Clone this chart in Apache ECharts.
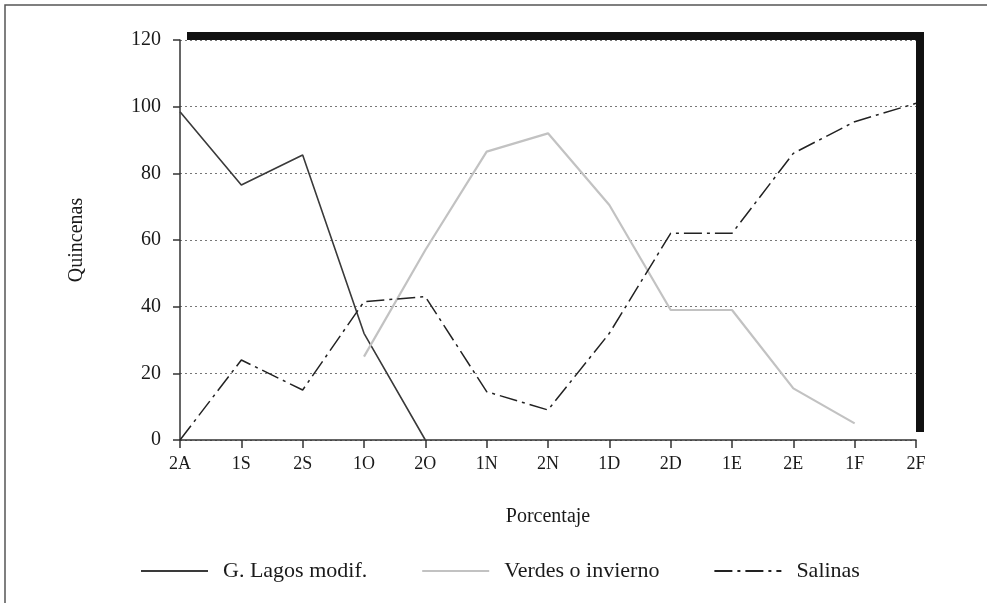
<!DOCTYPE html>
<html>
<head>
<meta charset="utf-8">
<script src="https://cdn.jsdelivr.net/npm/echarts@6/dist/echarts.min.js"></script>
<style>
html,body{margin:0;padding:0;background:#fff;}
#c{width:987px;height:603px;}
</style>
</head>
<body>
<div id="c"></div>
<script>
var categories = ['2A','1S','2S','1O','2O','1N','2N','1D','2D','1E','2E','1F','2F'];
var lagos = [98.5, 76.5, 85.5, 32, 0, null, null, null, null, null, null, null, null];
var verdes = [null, null, null, 25, 57, 86.5, 92, 70.5, 39, 39, 15.5, 5, null];
var salinas = [0, 24, 15, 41.5, 43, 14.5, 9, 32, 62, 62, 86, 95.5, 101];
var seriesNames = ['G. Lagos modif.', 'Verdes o invierno', 'Salinas'];
var yTicks = [0, 20, 40, 60, 80, 100, 120];

var FONT = '"Liberation Serif", "DejaVu Serif", serif';
var chart = echarts.init(document.getElementById('c'), null, {renderer: 'canvas'});
chart.setOption({
  backgroundColor: '#ffffff',
  animation: false,
  textStyle: {fontFamily: FONT, color: '#1a1a1a'},
  grid: {left: 180, right: 71, top: 40, bottom: 163},
  legend: {
    left: 140, top: 560, padding: 0,
    itemWidth: 67, itemHeight: 14, itemGap: 54,
    itemStyle: {opacity: 0},
    textStyle: {fontFamily: FONT, fontSize: 22, color: '#1a1a1a', padding: [0, 0, 0, 10]},
    data: seriesNames
  },
  xAxis: {
    type: 'category', data: categories, boundaryGap: false,
    name: 'Porcentaje', nameLocation: 'middle', nameGap: 67,
    nameTextStyle: {fontFamily: FONT, fontSize: 20, color: '#1a1a1a'},
    axisLine: {lineStyle: {color: '#333', width: 1.5}},
    axisTick: {show: true, length: 8, lineStyle: {color: '#333', width: 1.5}},
    axisLabel: {fontFamily: FONT, fontSize: 18, color: '#1a1a1a', margin: 15, interval: 0},
    splitLine: {show: false}
  },
  yAxis: {
    type: 'value', min: yTicks[0], max: yTicks[yTicks.length - 1], interval: 20,
    name: 'Quincenas', nameLocation: 'middle', nameGap: 93, nameRotate: 90,
    nameTextStyle: {fontFamily: FONT, fontSize: 20, color: '#1a1a1a'},
    axisLine: {show: true, lineStyle: {color: '#333', width: 1.5}},
    axisTick: {show: true, length: 7, lineStyle: {color: '#333', width: 1.5}},
    axisLabel: {fontFamily: FONT, fontSize: 20, color: '#1a1a1a', margin: 19},
    splitLine: {show: true, lineStyle: {color: '#777', type: [2, 3], width: 1}}
  },
  graphic: [
    {type: 'rect', z: 100, shape: {x: 5, y: 5, width: 1100, height: 700}, style: {fill: null, stroke: '#555', lineWidth: 1.5}},
    {type: 'rect', z: 100, shape: {x: 187, y: 32, width: 737, height: 8}, style: {fill: '#111'}},
    {type: 'rect', z: 100, shape: {x: 916, y: 32, width: 8, height: 400}, style: {fill: '#111'}}
  ],
  series: [
    {name: seriesNames[0], type: 'line', data: lagos, symbol: 'none', connectNulls: false,
     lineStyle: {color: '#3a3a3a', width: 1.6, type: 'solid'}, itemStyle: {color: '#3a3a3a'}},
    {name: seriesNames[1], type: 'line', data: verdes, symbol: 'none',
     lineStyle: {color: '#c2c2c2', width: 2.2, type: 'solid'}, itemStyle: {color: '#c2c2c2'}},
    {name: seriesNames[2], type: 'line', data: salinas, symbol: 'none',
     lineStyle: {color: '#222', width: 1.5, type: [18, 5, 3, 5]}, itemStyle: {color: '#222'}}
  ]
});
</script>
</body>
</html>
